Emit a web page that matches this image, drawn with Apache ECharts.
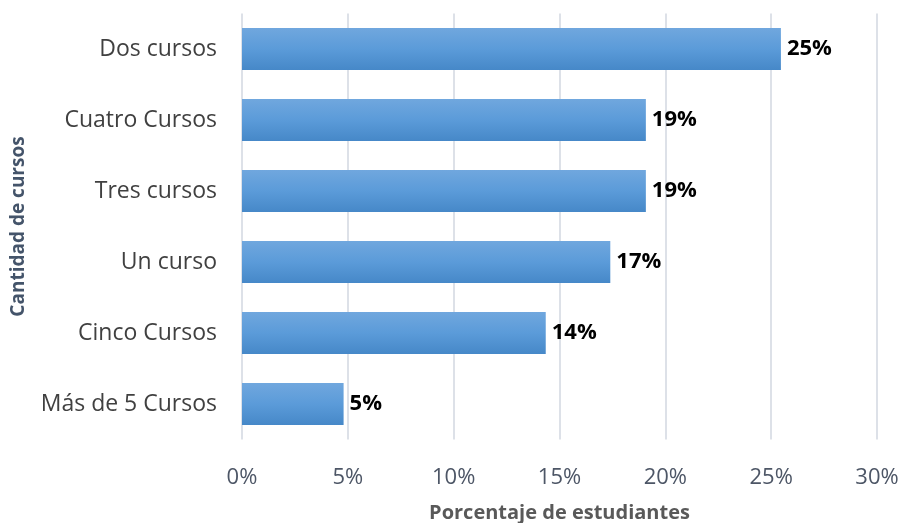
<!DOCTYPE html>
<html>
<head>
<meta charset="utf-8">
<script src="https://cdn.jsdelivr.net/npm/echarts@6/dist/echarts.min.js"></script>
<style>
  html, body { margin: 0; padding: 0; background: #fff; }
  #chart { width: 902px; height: 523px; }
</style>
</head>
<body>
<div id="chart"></div>
<script>
// categorias de abajo hacia arriba
var categorias = ["Más de 5 Cursos", "Cinco Cursos", "Un curso", "Tres cursos", "Cuatro Cursos", "Dos cursos"];
var porcentajes = [4.8, 14.35, 17.4, 19.08, 19.08, 25.46];
var ticksX = [0, 5, 10, 15, 20, 25, 30];

var chart = echarts.init(document.getElementById("chart"));
var fuente = "Open Sans";

var option = {
  animation: false,
  grid: { left: 242, right: 25, top: 13.5, bottom: 83.5, outerBoundsMode: "none", containLabel: false },
  xAxis: {
    type: "value",
    min: ticksX[0],
    max: ticksX[ticksX.length - 1],
    interval: 5,
    name: "Porcentaje de estudiantes",
    nameLocation: "middle",
    nameGap: 64,
    nameTextStyle: { fontFamily: fuente, fontSize: 20, fontWeight: "bold", color: "#595959" },
    axisLine: { show: false },
    axisTick: { show: false },
    axisLabel: {
      margin: 27,
      fontFamily: fuente, fontSize: 22, color: "#4d5666",
      formatter: function (v) { return v + "%"; }
    },
    splitLine: { lineStyle: { color: "#dde1e8", width: 2 } }
  },
  yAxis: {
    type: "category",
    data: categorias,
    name: "Cantidad de cursos",
    nameLocation: "middle",
    nameRotate: 90,
    nameGap: 214,
    nameTextStyle: { fontFamily: fuente, fontSize: 19, fontWeight: "bold", color: "#44546a" },
    axisLine: { show: false },
    axisTick: { show: false },
    axisLabel: { margin: 25, fontFamily: fuente, fontSize: 23, color: "#404040" }
  },
  series: [
    {
      type: "bar",
      data: porcentajes,
      barWidth: 42,
      itemStyle: {
        color: new echarts.graphic.LinearGradient(0, 0, 0, 1, [
          { offset: 0, color: "#70a7de" },
          { offset: 0.5, color: "#5b9bd9" },
          { offset: 1, color: "#4688c8" }
        ])
      },
      label: {
        show: true,
        position: "right",
        distance: 6,
        fontFamily: fuente,
        fontSize: 22,
        fontWeight: "bold",
        color: "#000",
        formatter: function (p) { return Math.round(p.value) + "%"; }
      }
    }
  ]
};
chart.setOption(option);
</script>
</body>
</html>
